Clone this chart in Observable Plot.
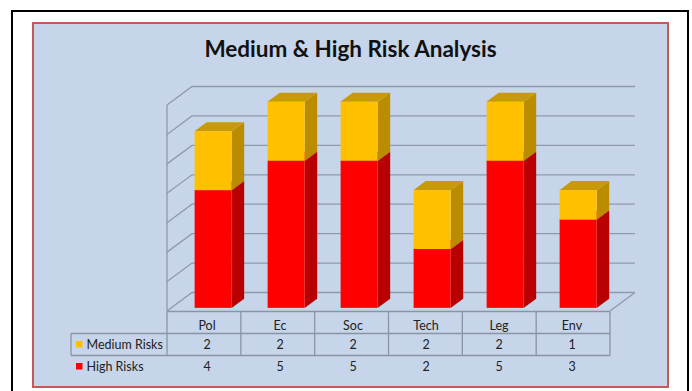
<!DOCTYPE html>
<html>
<head>
<meta charset="utf-8">
<script src="https://cdn.jsdelivr.net/npm/d3@7"></script>
<script src="https://cdn.jsdelivr.net/npm/@observablehq/plot@0.6"></script>
<style>
  html, body { margin: 0; padding: 0; background: #fff; }
  #page { position: relative; width: 692px; height: 391px; overflow: hidden; background: #fff; }
  #outer { position: absolute; left: 11px; top: 10px; width: 678px; height: 420px; box-sizing: border-box; border: 2px solid #000; }
  #inner { position: absolute; left: 32px; top: 22px; width: 637px; height: 366px; box-sizing: border-box; border: 2px solid #c4595a; background: #c6d5ea; }
  #title { position: absolute; left: 32px; width: 637px; top: 38px; height: 22px; line-height: 22px; text-align: center;
           font-family: Lato, "Open Sans", sans-serif; font-weight: 700; font-size: 22.5px; color: #111; }
  #chart { position: absolute; left: 0; top: 0; }
</style>
</head>
<body>
<div id="page">
  <div id="outer"></div>
  <div id="inner"></div>
  <div id="title">Medium &amp; High Risk Analysis</div>
  <div id="chart"></div>
</div>
<script>
// ---- data ----
const categories = ["Pol", "Ec", "Soc", "Tech", "Leg", "Env"];
const mediumRisks = [2, 2, 2, 2, 2, 1];
const highRisks = [4, 5, 5, 2, 5, 3];
const seriesNames = ["Medium Risks", "High Risks"];
const yTicks = [0, 1, 2, 3, 4, 5, 6, 7];

// ---- styles ----
const frontColors = ["#ffc000", "#ff0000"];
const sideColors = ["#bb8b00", "#b80000"];
const topColors = ["#c99a08", "#cc0000"];
const gridColor = "#8f9aab";
const tableColor = "#8a94a4";
const textColor = "#222";

// 3D projection (pixels of depth)
const DX = 25, DY = 18.5;
const F0 = 0.17, F1 = 0.66;      // bar front / back depth fraction
const BAR_L = 0.276, BAR_R = 0.79; // bar front-face extent within band
const ROW_H = 22, LABEL_W = 96;

const W = 692, H = 391;
const mL = 167, mR = 82, mT = 105, mB = 80;
const bw = (W - mL - mR) / categories.length;

const rows = categories.flatMap((c, i) => [
  {cat: c, series: "High Risks", value: highRisks[i]},
  {cat: c, series: "Medium Risks", value: mediumRisks[i]}
]);

function walls(index, scales, values, dims) {
  const {y} = scales;
  const X0 = dims.marginLeft, X1 = dims.width - dims.marginRight;
  const g = d3.create("svg:g").attr("fill", "none").attr("stroke", gridColor).attr("stroke-width", 1.3);
  for (const v of yTicks) {
    const yy = y(v);
    g.append("path").attr("d", `M${X0},${yy}L${X0 + DX},${yy - DY}L${X1 + DX},${yy - DY}`);
  }
  const top = y(d3.max(yTicks)), y0 = y(0);
  g.append("path").attr("d", `M${X0},${y0}V${top}`);
  g.append("path").attr("d", `M${X1},${y0}L${X1 + DX},${y0 - DY}`);
  return g.node();
}

function boxes(index, scales) {
  const {x, y} = scales;
  const b = x.bandwidth ? x.bandwidth() : bw;
  const g = d3.create("svg:g");
  const ddx = DX * (F1 - F0), ddy = DY * (F1 - F0);
  categories.forEach((c, i) => {
    const segs = [[0, highRisks[i], 1], [highRisks[i], highRisks[i] + mediumRisks[i], 0]];
    const xl = x(c) + b * BAR_L + DX * F0, xr = x(c) + b * BAR_R + DX * F0;
    for (const [a, t, k] of segs) {
      const yb = y(a) - DY * F0, yt = y(t) - DY * F0;
      g.append("path").attr("fill", sideColors[k])
        .attr("d", `M${xr},${yb}L${xr + ddx},${yb - ddy}L${xr + ddx},${yt - ddy}L${xr},${yt}Z`);
      g.append("path").attr("fill", topColors[k])
        .attr("d", `M${xl},${yt}L${xl + ddx},${yt - ddy}L${xr + ddx},${yt - ddy}L${xr},${yt}Z`);
    }
  });
  return g.node();
}

function table(index, scales, values, dims) {
  const {y} = scales;
  const X0 = dims.marginLeft, X1 = dims.width - dims.marginRight;
  const y0 = y(0) + 0.5;
  const g = d3.create("svg:g").attr("fill", "none").attr("stroke", tableColor).attr("stroke-width", 1.3);
  g.append("path").attr("d", `M${X0},${y0}H${X1}`);
  for (let r = 1; r <= seriesNames.length; r++) {
    g.append("path").attr("d", `M${X0 - LABEL_W},${y0 + r * ROW_H}H${X1}`);
  }
  const yEnd = y0 + seriesNames.length * ROW_H;
  for (let k = 0; k <= categories.length; k++) {
    const xx = X0 + k * (X1 - X0) / categories.length;
    g.append("path").attr("d", `M${xx},${y0}V${yEnd}`);
  }
  g.append("path").attr("d", `M${X0 - LABEL_W},${y0 + ROW_H}V${yEnd}`);
  seriesNames.forEach((s, r) => {
    g.append("rect").attr("stroke", "none").attr("fill", frontColors[r])
      .attr("x", X0 - LABEL_W + 5).attr("y", y0 + (r + 1) * ROW_H + 7.5).attr("width", 6.5).attr("height", 6.5);
  });
  return g.node();
}

const txt = {fontSize: 12.5, fill: textColor};

const chart = Plot.plot({
  width: W, height: H,
  marginLeft: mL, marginRight: mR, marginTop: mT, marginBottom: mB,
  x: {domain: categories, padding: 0, axis: null},
  y: {domain: [0, d3.max(yTicks)], axis: null},
  color: {domain: seriesNames, range: frontColors},
  style: {background: "transparent", fontFamily: "Lato, 'Open Sans', sans-serif", fontSize: "12.5px", color: textColor, overflow: "visible"},
  marks: [
    walls,
    boxes,
    Plot.barY(rows, Plot.stackY({
      x: "cat", y: "value", fill: "series", order: ["High Risks", "Medium Risks"],
      insetLeft: bw * BAR_L, insetRight: bw * (1 - BAR_R), dx: DX * F0, dy: -DY * F0
    })),
    table,
    Plot.text(categories, {x: d => d, text: d => d, frameAnchor: "bottom", dy: 18.5, ...txt}),
    Plot.text(categories, {x: d => d, text: (d, i) => String(mediumRisks[i]), frameAnchor: "bottom", dy: 37, ...txt}),
    Plot.text(categories, {x: d => d, text: (d, i) => String(highRisks[i]), frameAnchor: "bottom", dy: 59.5, ...txt}),
    Plot.text([seriesNames[0]], {text: d => d, frameAnchor: "bottom-left", textAnchor: "start", dx: -81, dy: 37, ...txt}),
    Plot.text([seriesNames[1]], {text: d => d, frameAnchor: "bottom-left", textAnchor: "start", dx: -81, dy: 59.5, ...txt})
  ]
});
document.getElementById("chart").appendChild(chart);
</script>
</body>
</html>
